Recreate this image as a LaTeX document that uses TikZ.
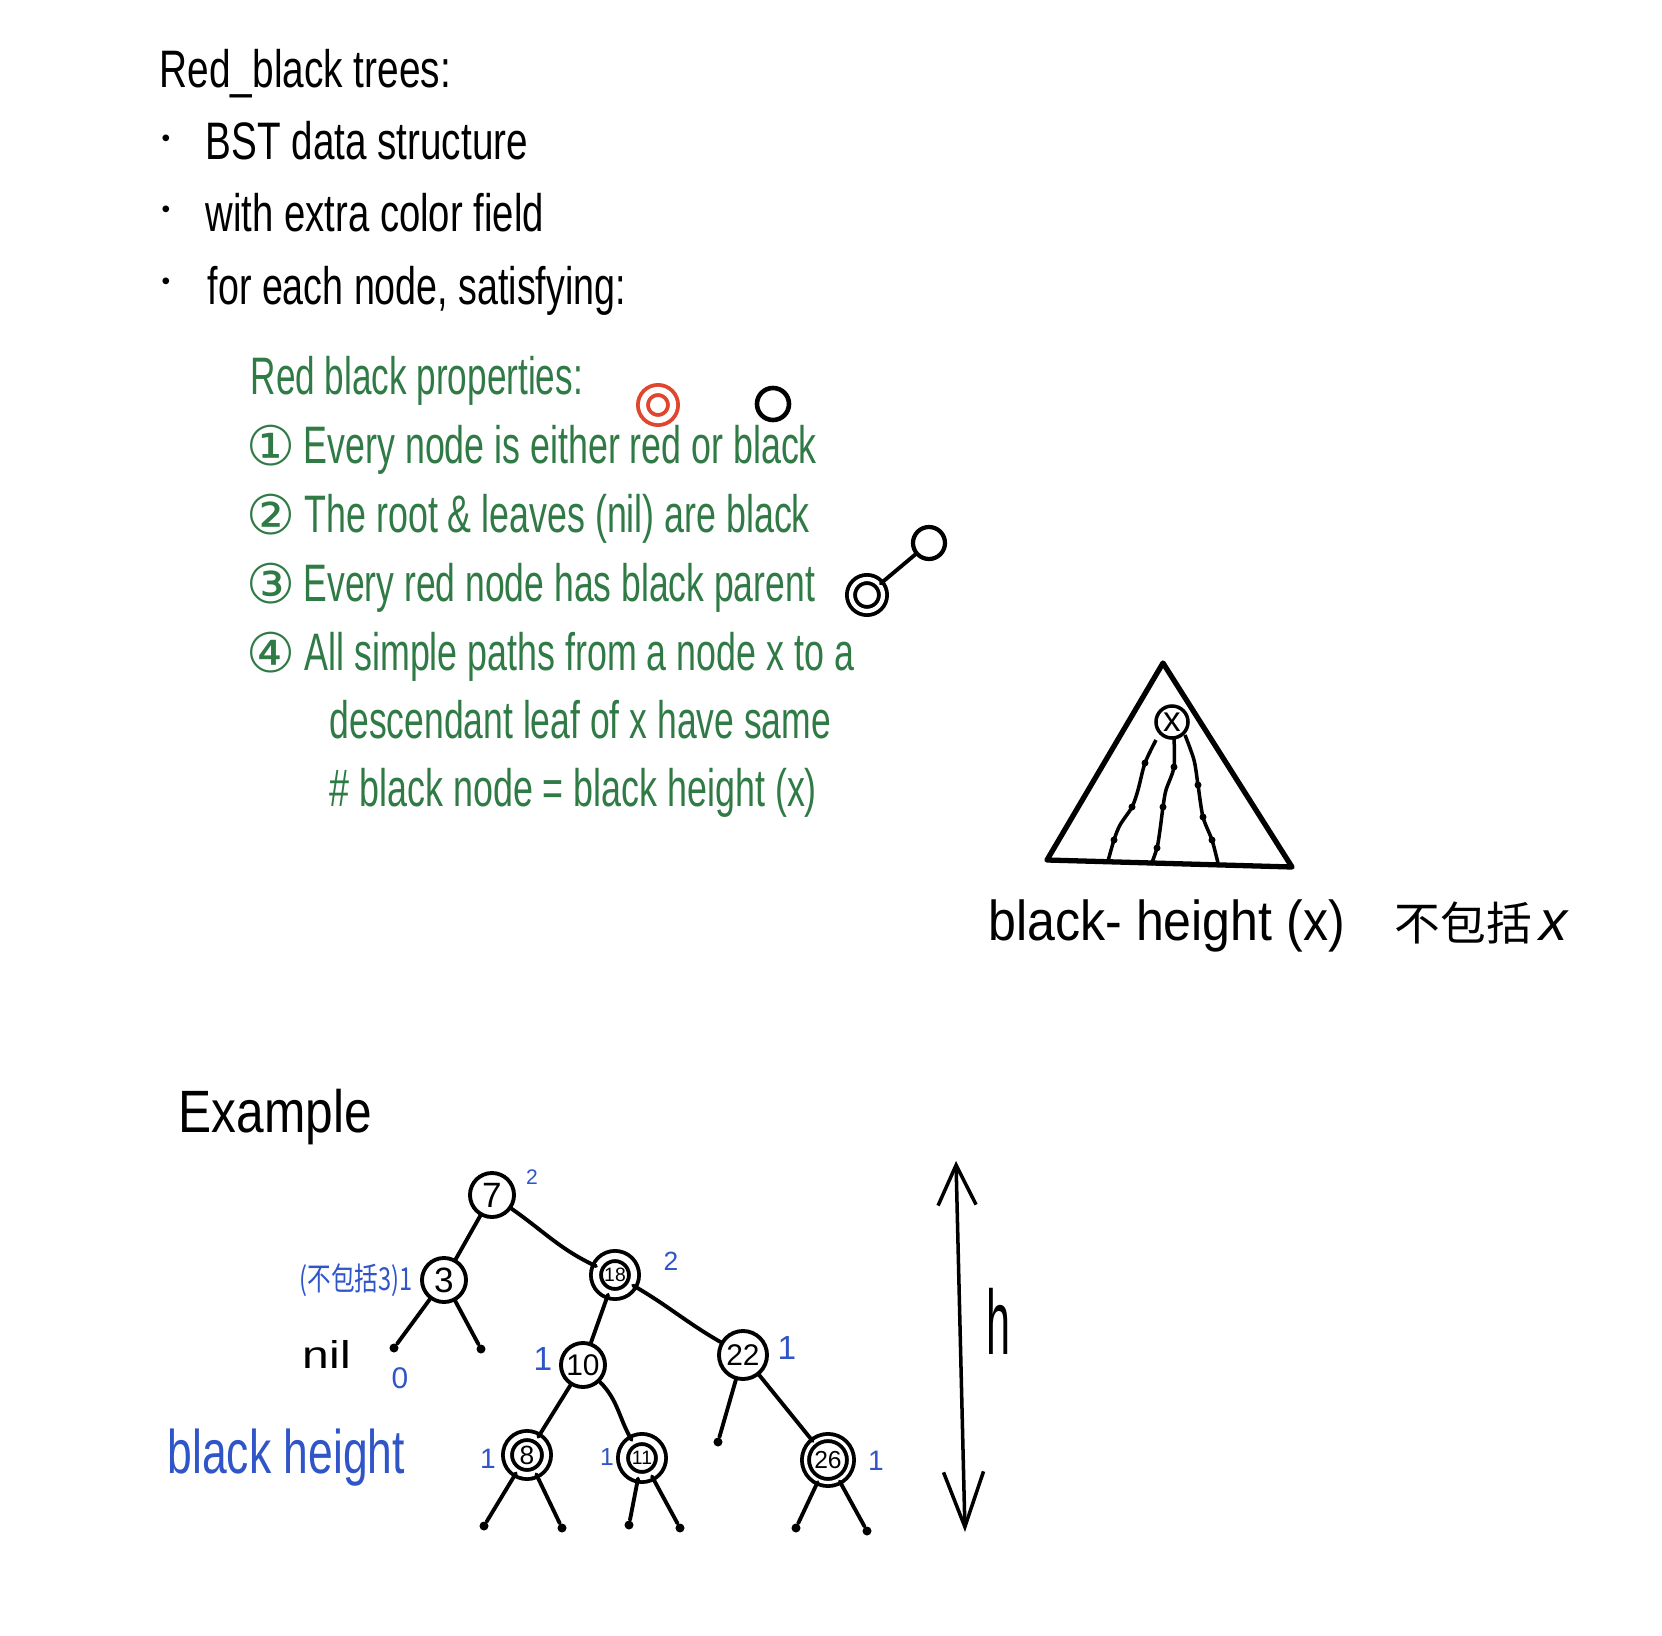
\documentclass[tikz,border=0pt]{standalone}
\usepackage{fontspec}
\setmainfont{Liberation Sans}
\newfontfamily\cjk{Noto Sans CJK SC}
\newfontfamily\djv{DejaVu Sans}
\usetikzlibrary{arrows.meta}
\definecolor{rbgreen}{HTML}{2F7A45}
\definecolor{rbblue}{HTML}{2F55C8}
\definecolor{rbred}{HTML}{E0462E}
\newcommand\fitw[2]{\resizebox{#1}{\height}{#2}}
\tikzset{
  blk/.style={anchor=base west, inner sep=0, font=\fontsize{15}{18}\selectfont},
  grn/.style={blk, text=rbgreen},
  cnum/.style={inner sep=0, text=rbgreen},
  bul/.style={inner sep=0, font=\fontsize{7}{8}\selectfont},
  tn/.style={circle, draw, line width=1.1pt, inner sep=0, minimum size=0.44cm, font=\fontsize{10}{12}\selectfont},
  rn/.style={tn, double, double distance=1.75pt, minimum size=0.38cm, font=\fontsize{5.5}{7}\selectfont},
  dot/.style={circle, fill, inner sep=0, minimum size=0.09cm},
  edge/.style={line width=1.1pt, line cap=round},
  blu/.style={inner sep=0, text=rbblue},
  pdot/.style={circle, fill, inner sep=0, minimum size=0.07cm}
}
\begin{document}
\begin{tikzpicture}[x=0.01cm,y=-0.01cm]
\useasboundingbox (0,0) rectangle (1662,1636);
\fill[white] (0,0) rectangle (1662,1636);

% header
\node[blk] (title) at (159,87) {\fitw{2.91cm}{Red\_black trees:}};
\node[bul] (b1) at (166,141) {•};
\node[bul] (b2) at (166,212) {•};
\node[bul] (b3) at (166,284) {•};
\node[blk] (l1) at (205,159) {\fitw{3.22cm}{BST data structure}};
\node[blk] (l2) at (205,231) {\fitw{3.38cm}{with extra color field}};
\node[blk] (l3) at (207,304) {\fitw{4.18cm}{for each node, satisfying:}};

% green properties
\node[grn] (gp) at (250,394) {\fitw{3.32cm}{Red black properties:}};
\node[cnum] (c1) at (271,446) {\resizebox{0.49cm}{!}{\djv ①}};
\node[cnum] (c2) at (271,515) {\resizebox{0.49cm}{!}{\djv ②}};
\node[cnum] (c3) at (271,584) {\resizebox{0.49cm}{!}{\djv ③}};
\node[cnum] (c4) at (271,653) {\resizebox{0.49cm}{!}{\djv ④}};
\node[grn] (p1) at (303,463) {\fitw{5.13cm}{Every node is either red or black}};
\node[grn] (p2) at (304,532) {\fitw{5.05cm}{The root \& leaves (nil) are black}};
\node[grn] (p3) at (303,601) {\fitw{5.11cm}{Every red node has black parent}};
\node[grn] (p4) at (304,670) {\fitw{5.49cm}{All simple paths from a node x to a}};
\node[grn] (p5) at (329,738) {\fitw{5.01cm}{descendant leaf of x have same}};
\node[grn] (p6) at (329,806) {\fitw{4.87cm}{\# black node = black height (x)}};

% small example circles
\node[circle, draw=rbred, double, double distance=1.75pt, line width=1.1pt, minimum size=0.30cm, inner sep=0] (rc) at (658,405) {};
\node[circle, draw, line width=1.3pt, minimum size=0.32cm, inner sep=0] (bc) at (773,404) {};
\node[circle, draw, line width=1.2pt, minimum size=0.32cm, inner sep=0] (pc) at (929,543) {};
\node[circle, draw, double, double distance=1.2pt, line width=1.1pt, minimum size=0.32cm, inner sep=0] (cc) at (867,595) {};
\draw[edge] (cc) -- (pc);

% triangle
\coordinate (ta) at (1163,663);
\coordinate (tl) at (1047,860);
\coordinate (tr) at (1292,867);
\draw[line width=1.5pt, line join=round] (ta) -- (tl) -- (tr) -- cycle;
\node[circle, draw, line width=1pt, minimum size=0.32cm, inner sep=0, font=\fontsize{10}{12}\selectfont] (xn) at (1172,722) {x};
\draw[line width=1pt] plot[smooth] coordinates {(1156,740) (1145,763) (1138,790) (1132,807) (1120,825) (1114,840) (1108,861)};
\draw[line width=1pt] plot[smooth] coordinates {(1174,738) (1174,767) (1166,790) (1163,807) (1160,830) (1157,848) (1151,865)};
\draw[line width=1pt] plot[smooth] coordinates {(1185,735) (1194,760) (1198,785) (1203,817) (1212,840) (1218,863)};
\foreach \p in {(1145,763),(1132,807),(1114,840),(1174,767),(1163,807),(1157,848),(1198,785),(1203,817),(1212,840)}
  \node[pdot] at \p {};
\node[blk, font=\fontsize{16}{19}\selectfont] (bhx) at (988,940) {\fitw{3.56cm}{black- height (x)}};
\node[blk, font=\cjk\fontsize{13}{15}\selectfont] (bkx) at (1394,940) {不包括};
\node[blk, font=\fontsize{16}{19}\selectfont\itshape] (bxx) at (1539,940) {x};

% example tree
\node[blk, font=\fontsize{17}{20}\selectfont] (ex) at (178,1132) {\fitw{1.93cm}{Example}};
\node[tn] (n7) at (492,1195) {7};
\node[tn] (n3) at (444,1280) {3};
\node[rn] (n18) at (615,1275) {18};
\node[tn, font=\fontsize{8.5}{10}\selectfont] (n10) at (583,1365) {10};
\node[tn, minimum size=0.48cm, font=\fontsize{8.5}{10}\selectfont] (n22) at (743,1355) {22};
\node[rn, minimum size=0.39cm, double distance=1.46pt, font=\fontsize{7.5}{9}\selectfont] (n8) at (527,1455) {8};
\node[rn] (n11) at (642,1458) {11};
\node[rn, minimum size=0.45cm, double distance=0.9pt, font=\fontsize{7}{9}\selectfont] (n26) at (828,1460) {26};

\node[dot] (d3a) at (394,1348) {};
\node[dot] (d3b) at (481,1349) {};
\node[dot] (d22) at (718,1442) {};
\node[dot] (d8a) at (484,1526) {};
\node[dot] (d8b) at (562,1528) {};
\node[dot] (d11a) at (629,1525) {};
\node[dot] (d11b) at (680,1528) {};
\node[dot] (d26a) at (796,1528) {};
\node[dot] (d26b) at (867,1531) {};

\draw[edge] (n7) -- (n3);
\draw[edge] (n7) to[out=-35,in=155] (n18);
\draw[edge] (n3) -- (d3a);
\draw[edge] (n3) -- (d3b);
\draw[edge] (n18) -- (n10);
\draw[edge] (n18) to[out=-30,in=150] (n22);
\draw[edge] (n10) -- (n8);
\draw[edge] (n10) to[out=-45,in=120] (n11);
\draw[edge] (n22) -- (d22);
\draw[edge] (n22) -- (n26);
\draw[edge] (n8) -- (d8a);
\draw[edge] (n8) -- (d8b);
\draw[edge] (n11) -- (d11a);
\draw[edge] (n11) -- (d11b);
\draw[edge] (n26) -- (d26a);
\draw[edge] (n26) -- (d26b);

% labels
\node[blk, font=\fontsize{11}{13}\selectfont] (nil) at (302,1368) {\fitw{0.48cm}{nil}};
\node[blu, font=\fontsize{6}{7}\selectfont] (bl7) at (532,1177) {2};
\node[blu, font=\fontsize{7.5}{9}\selectfont] (bl18) at (671,1261) {2};
\node[blu, font=\cjk\fontsize{9}{10}\selectfont] (bl3) at (356,1280) {\fitw{1.13cm}{(不包括3)1}};
\node[blu, font=\fontsize{8.5}{10}\selectfont] (bl0) at (400,1378) {0};
\node[blu, font=\fontsize{9.5}{11}\selectfont] (bl10) at (543,1359) {1};
\node[blu, font=\fontsize{9.5}{11}\selectfont] (bl22) at (787,1348) {1};
\node[blu, font=\fontsize{8}{10}\selectfont] (bl8) at (488,1459) {1};
\node[blu, font=\fontsize{7}{9}\selectfont] (bl11) at (607,1457) {1};
\node[blu, font=\fontsize{8}{10}\selectfont] (bl26) at (876,1461) {1};
\node[blk, text=rbblue, font=\fontsize{17.5}{20}\selectfont] (bh) at (167,1473) {\fitw{2.37cm}{black height}};

% height arrow
\coordinate (ht) at (956,1161);
\coordinate (hb) at (965,1532);
\draw[line width=1pt, {Straight Barb[length=0.4cm,width=0.38cm]}-{Straight Barb[length=0.55cm,width=0.4cm]}] (ht) -- (hb);
\node[blk, font=\fontsize{26}{28}\selectfont] (hl) at (986,1354) {\fitw{0.24cm}{h}};
\end{tikzpicture}
\end{document}
